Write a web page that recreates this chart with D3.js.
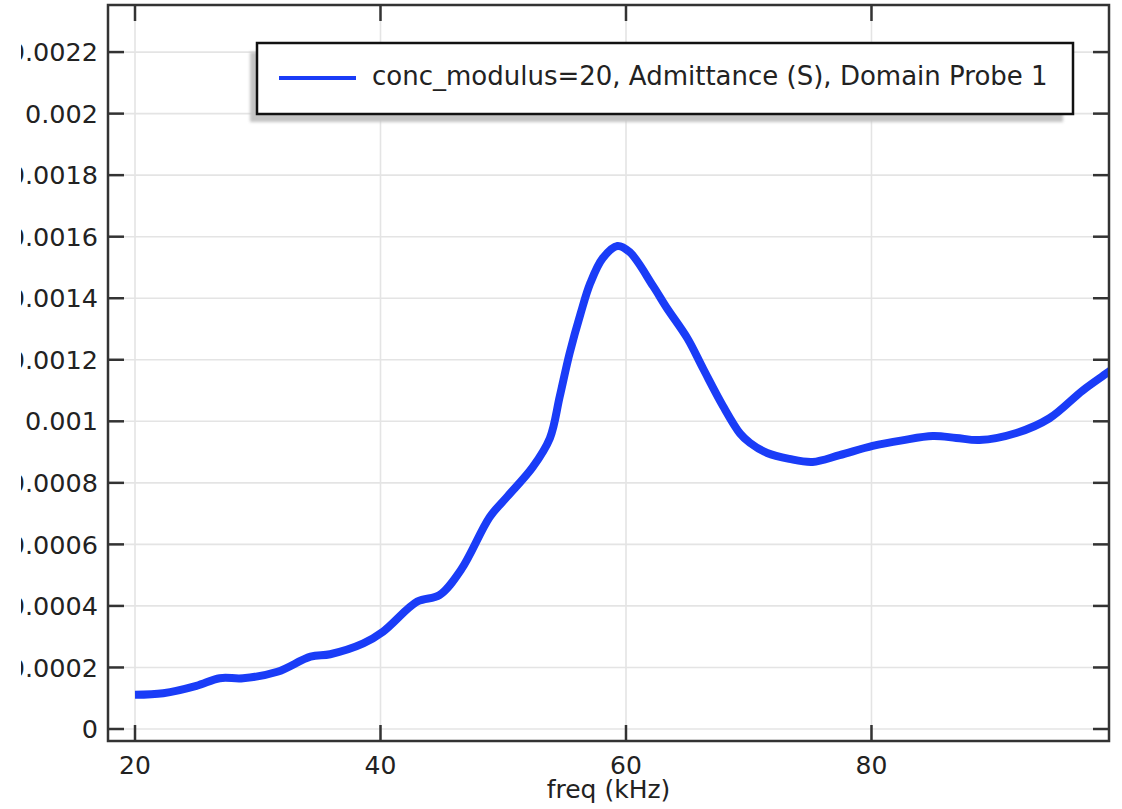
<!DOCTYPE html>
<html>
<head>
<meta charset="utf-8">
<script src="https://cdn.jsdelivr.net/npm/d3@7"></script>
<style>
  html, body { margin: 0; padding: 0; background: #fff; }
  svg { display: block; font-family: "DejaVu Sans", sans-serif; }
</style>
</head>
<body>
<svg id="chart" width="1122" height="809"></svg>
<script>
// Frequency sweep (kHz) and admittance (S) from Domain Probe 1
const freq = [20, 22.3, 25, 26.9, 28.8, 31.6, 34.3, 35.9, 38.6, 40.2, 43, 44.8, 46.6,
  48.9, 50.3, 52.4, 53.8, 54.6, 55.4, 56.3, 57.1, 58.1, 59.3, 60.3, 62.2, 63.3, 65,
  66.3, 67.9, 69.3, 70.1, 71.5, 73.3, 75.2, 77.4, 80.1, 82.5, 85, 86.9, 88.8, 91.8,
  94.5, 97.2, 99.3, 100];
const admittance = [0.000111, 0.000116, 0.00014, 0.000165, 0.000165, 0.000186, 0.000235,
  0.000243, 0.000278, 0.000316, 0.000414, 0.000435, 0.00052,
  0.000689, 0.000754, 0.000851, 0.000945, 0.00108, 0.00122, 0.00135, 0.00145, 0.00153,
  0.00157, 0.00155, 0.00144, 0.00137, 0.00127,
  0.00117, 0.00105, 0.00096, 0.00093, 0.000897, 0.000878, 0.000868, 0.00089, 0.00092,
  0.000938, 0.000952, 0.000946, 0.000939, 0.000962,
  0.00101, 0.0011, 0.00116, 0.00118];

const xTicks = [20, 40, 60, 80];
const yTicks = [0, 0.0002, 0.0004, 0.0006, 0.0008, 0.001, 0.0012, 0.0014, 0.0016, 0.0018, 0.002, 0.0022];
const yTickLabels = ["0", "0.0002", "0.0004", "0.0006", "0.0008", "0.001", "0.0012", "0.0014", "0.0016", "0.0018", "0.002", "0.0022"];
const seriesName = "conc_modulus=20, Admittance (S), Domain Probe 1";
const xTitle = "freq (kHz)";

const svg = d3.select("#chart");
const defs = svg.append("defs");
const plot = { left: 108, top: 5, right: 1109, bottom: 741 };

const x = d3.scaleLinear().domain([17.8, 99.35]).range([plot.left, plot.right]);
const y = d3.scaleLinear().domain([-0.000039, 0.002353]).range([plot.bottom, plot.top]);

const textColor = "#222";
const axisColor = "#333";

// grid
const grid = svg.append("g").attr("stroke", "#e4e4e4").attr("stroke-width", 1.6);
grid.selectAll("line.v").data(xTicks).join("line")
  .attr("x1", d => x(d)).attr("x2", d => x(d))
  .attr("y1", plot.top).attr("y2", plot.bottom);
grid.selectAll("line.h").data(yTicks).join("line")
  .attr("x1", plot.left).attr("x2", plot.right)
  .attr("y1", d => y(d)).attr("y2", d => y(d));

// data line, clipped to the plot frame
defs.append("clipPath").attr("id", "clip")
  .append("rect").attr("x", plot.left).attr("y", plot.top)
  .attr("width", plot.right - plot.left).attr("height", plot.bottom - plot.top);

const pts = freq.map((f, i) => [f, admittance[i]]);
const line = d3.line().x(d => x(d[0])).y(d => y(d[1])).curve(d3.curveCatmullRom.alpha(0.5));
svg.append("path")
  .attr("clip-path", "url(#clip)")
  .attr("d", line(pts))
  .attr("fill", "none")
  .attr("stroke", "#1a3cf7")
  .attr("stroke-width", 8)
  .attr("stroke-linejoin", "round");

// frame with inward ticks on all four sides
const tickLen = 16;
const axisG = svg.append("g").attr("stroke", axisColor).attr("stroke-width", 2.5);
axisG.append("rect")
  .attr("x", plot.left).attr("y", plot.top)
  .attr("width", plot.right - plot.left).attr("height", plot.bottom - plot.top)
  .attr("fill", "none");
axisG.selectAll("line.yl").data(yTicks).join("line")
  .attr("x1", plot.left).attr("x2", plot.left + tickLen)
  .attr("y1", d => y(d)).attr("y2", d => y(d));
axisG.selectAll("line.yr").data(yTicks).join("line")
  .attr("x1", plot.right - tickLen).attr("x2", plot.right)
  .attr("y1", d => y(d)).attr("y2", d => y(d));
axisG.selectAll("line.xb").data(xTicks).join("line")
  .attr("x1", d => x(d)).attr("x2", d => x(d))
  .attr("y1", plot.bottom).attr("y2", plot.bottom - tickLen);
axisG.selectAll("line.xt").data(xTicks).join("line")
  .attr("x1", d => x(d)).attr("x2", d => x(d))
  .attr("y1", plot.top).attr("y2", plot.top + tickLen);

// y tick labels live in a narrow label strip that cuts off at its left edge
defs.append("clipPath").attr("id", "ylabelClip")
  .append("rect").attr("x", 21).attr("y", 0).attr("width", plot.left - 21).attr("height", 809);
svg.append("g").attr("clip-path", "url(#ylabelClip)")
  .selectAll("text").data(yTicks).join("text")
  .attr("x", 98).attr("y", d => y(d)).attr("dy", "0.36em")
  .attr("text-anchor", "end").attr("font-size", 25.5).attr("fill", textColor)
  .text((d, i) => yTickLabels[i]);
svg.append("g").selectAll("text").data(xTicks).join("text")
  .attr("x", d => x(d)).attr("y", 774)
  .attr("text-anchor", "middle").attr("font-size", 25).attr("fill", textColor)
  .text(d => d);
svg.append("text")
  .attr("x", (plot.left + plot.right) / 2).attr("y", 798)
  .attr("text-anchor", "middle").attr("font-size", 25).attr("fill", textColor)
  .text(xTitle);

// legend with drop shadow
defs.append("filter").attr("id", "soft").attr("x", "-5%").attr("y", "-20%").attr("width", "110%").attr("height", "140%")
  .append("feGaussianBlur").attr("stdDeviation", 1.5);
const lg = svg.append("g");
lg.append("rect").attr("x", 250).attr("y", 52).attr("width", 813).attr("height", 70)
  .attr("fill", "#c4c4c4").attr("filter", "url(#soft)");
lg.append("rect").attr("x", 257).attr("y", 43).attr("width", 816).attr("height", 71)
  .attr("fill", "#fff").attr("stroke", "#111").attr("stroke-width", 2.5);
lg.append("line").attr("x1", 279).attr("x2", 356).attr("y1", 78).attr("y2", 78)
  .attr("stroke", "#1a3cf7").attr("stroke-width", 4);
lg.append("text").attr("x", 372).attr("y", 85)
  .attr("font-size", 26).attr("fill", textColor).text(seriesName);
</script>
</body>
</html>
